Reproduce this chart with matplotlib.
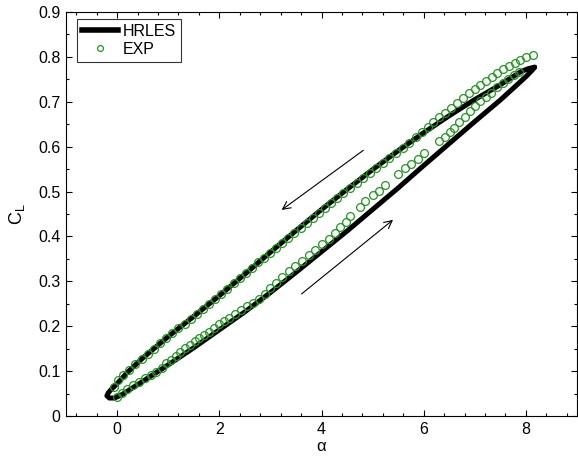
import matplotlib
matplotlib.use("Agg")
import matplotlib.pyplot as plt
from matplotlib.ticker import MultipleLocator
from matplotlib.lines import Line2D

plt.rcParams['font.family'] = ['Liberation Sans', 'DejaVu Sans']

# HRLES loop: downstroke (upper branch, alpha decreasing) then upstroke (lower branch)
hr_down_alpha = [8.17, 8.05, 7.90, 7.50, 7.00, 6.50, 6.00, 5.50, 5.00, 4.50, 4.00, 3.50,
                 3.00, 2.50, 2.00, 1.50, 1.00, 0.50, 0.20, 0.00, -0.10, -0.17, -0.20]
hr_down_cl = [0.777, 0.774, 0.767, 0.738, 0.705, 0.669, 0.631, 0.591, 0.549, 0.505, 0.460, 0.413,
              0.365, 0.316, 0.268, 0.222, 0.177, 0.129, 0.097, 0.072, 0.061, 0.052, 0.045]
hr_up_alpha = [-0.20, -0.15, -0.05, 0.10, 0.50, 1.00, 1.50, 2.00, 2.50, 3.00, 3.50, 4.00,
               4.50, 5.00, 5.50, 6.00, 6.50, 7.00, 7.50, 7.80, 8.00, 8.12, 8.17]
hr_up_cl = [0.045, 0.040, 0.040, 0.048, 0.077, 0.114, 0.152, 0.192, 0.232, 0.275, 0.320, 0.366,
            0.412, 0.460, 0.508, 0.558, 0.607, 0.656, 0.704, 0.735, 0.756, 0.770, 0.777]

# Experimental data: downstroke (upper) and upstroke (lower)
exp_down_alpha = [8.14, 8.01, 7.89, 7.78, 7.66, 7.55, 7.44, 7.33, 7.22, 7.11, 7.00, 6.89,
                  6.77, 6.65, 6.53, 6.41, 6.30, 6.19, 6.08, 5.97, 5.85, 5.72, 5.59, 5.46,
                  5.33, 5.20, 5.07, 4.95, 4.82, 4.69, 4.56, 4.43, 4.31, 4.19, 4.07, 3.95,
                  3.83, 3.71, 3.59, 3.47, 3.35, 3.23, 3.11, 2.99, 2.88, 2.76, 2.64, 2.52,
                  2.40, 2.28, 2.16, 2.04, 1.92, 1.80, 1.68, 1.56, 1.44, 1.32, 1.20, 1.08,
                  0.96, 0.84, 0.72, 0.60, 0.48, 0.36, 0.24, 0.12, 0.02, -0.07]
exp_down_cl = [0.804, 0.799, 0.793, 0.787, 0.780, 0.772, 0.764, 0.755, 0.747, 0.738, 0.728, 0.719,
               0.709, 0.698, 0.687, 0.676, 0.665, 0.655, 0.644, 0.633, 0.621, 0.609, 0.597, 0.586,
               0.575, 0.564, 0.553, 0.542, 0.531, 0.519, 0.508, 0.496, 0.485, 0.474, 0.463, 0.452,
               0.441, 0.430, 0.419, 0.408, 0.397, 0.386, 0.375, 0.364, 0.353, 0.342, 0.330, 0.319,
               0.307, 0.296, 0.284, 0.272, 0.261, 0.250, 0.239, 0.228, 0.217, 0.206, 0.195, 0.184,
               0.173, 0.162, 0.150, 0.139, 0.127, 0.115, 0.103, 0.091, 0.080, 0.065]
exp_up_alpha = [0.00, 0.09, 0.20, 0.32, 0.43, 0.54, 0.66, 0.77, 0.87, 0.96, 1.06, 1.15,
                1.24, 1.33, 1.42, 1.52, 1.61, 1.70, 1.80, 1.90, 2.00, 2.10, 2.19, 2.30,
                2.42, 2.54, 2.66, 2.78, 2.90, 3.00, 3.10, 3.23, 3.36, 3.49, 3.62, 3.75,
                3.88, 4.01, 4.14, 4.27, 4.37, 4.47, 4.56, 4.75, 4.86, 5.00, 5.12, 5.24,
                5.50, 5.64, 5.76, 5.88, 6.01, 6.30, 6.41, 6.51, 6.60, 6.70, 6.80, 6.91,
                7.00, 7.11, 7.22, 7.32, 7.44, 7.55, 7.65, 7.77, 7.87]
exp_up_cl = [0.043, 0.052, 0.060, 0.069, 0.076, 0.084, 0.091, 0.099, 0.106, 0.117, 0.125, 0.134,
             0.142, 0.151, 0.158, 0.166, 0.173, 0.180, 0.188, 0.196, 0.204, 0.212, 0.219, 0.227,
             0.236, 0.244, 0.252, 0.261, 0.271, 0.285, 0.297, 0.310, 0.322, 0.334, 0.346, 0.358,
             0.370, 0.383, 0.395, 0.408, 0.420, 0.432, 0.446, 0.466, 0.480, 0.492, 0.502, 0.514,
             0.538, 0.552, 0.562, 0.573, 0.585, 0.612, 0.622, 0.632, 0.642, 0.655, 0.667, 0.679,
             0.690, 0.701, 0.711, 0.720, 0.732, 0.742, 0.751, 0.759, 0.766]

x_ticks = [0, 2, 4, 6, 8]
y_ticks = [0, 0.1, 0.2, 0.3, 0.4, 0.5, 0.6, 0.7, 0.8, 0.9]
y_ticklabels = ['0', '0.1', '0.2', '0.3', '0.4', '0.5', '0.6', '0.7', '0.8', '0.9']

# arrows (tail, head) in data coords
arrow_down = ((4.82, 0.592), (3.22, 0.459))
arrow_up = ((3.61, 0.272), (5.40, 0.437))

green = '#229622'

fig = plt.figure(figsize=(5.78, 4.57), dpi=100)
ax = fig.add_axes([66 / 578, 41 / 457, 511 / 578, 404 / 457])

ax.plot(hr_down_alpha + hr_up_alpha, hr_down_cl + hr_up_cl, color='black', lw=3.6,
        solid_capstyle='round', solid_joinstyle='round', zorder=2)
ax.plot(exp_down_alpha + exp_up_alpha, exp_down_cl + exp_up_cl, linestyle='none', marker='o',
        ms=5.6, mfc='none', mec=green, mew=0.9, zorder=3)

for tail, head in (arrow_down, arrow_up):
    ax.annotate('', xy=head, xytext=tail,
                arrowprops=dict(arrowstyle='->', color='black', lw=0.8,
                                shrinkA=0, shrinkB=0, mutation_scale=14))

ax.set_xlim(-1, 9)
ax.set_ylim(0, 0.9)
ax.set_xticks(x_ticks)
ax.set_yticks(y_ticks)
ax.set_yticklabels(y_ticklabels)
ax.xaxis.set_minor_locator(MultipleLocator(0.4))
ax.yaxis.set_minor_locator(MultipleLocator(0.05))
ax.tick_params(which='both', direction='in', top=True, right=True, labelsize=11.5, width=0.8)
ax.tick_params(which='major', length=4, pad=4)
ax.tick_params(which='minor', length=2.2)
for s in ax.spines.values():
    s.set_linewidth(0.8)

ax.set_xlabel('α', fontsize=12, labelpad=2)
ax.set_ylabel(r'C$_\mathregular{L}$', fontsize=13, labelpad=8)

handles = [Line2D([], [], color='black', lw=4),
           Line2D([], [], linestyle='none', marker='o', ms=4.2, mfc='none', mec=green, mew=0.9)]
leg = ax.legend(handles, ['HRLES', 'EXP'], loc='upper left', fontsize=11.5,
                frameon=True, fancybox=False, edgecolor='black', handlelength=2.3,
                handletextpad=0.3, borderpad=0.3, labelspacing=0.2,
                bbox_to_anchor=(0.021, 0.983), borderaxespad=0)
leg.get_frame().set_linewidth(0.8)

fig.savefig('out.png', dpi=100)
